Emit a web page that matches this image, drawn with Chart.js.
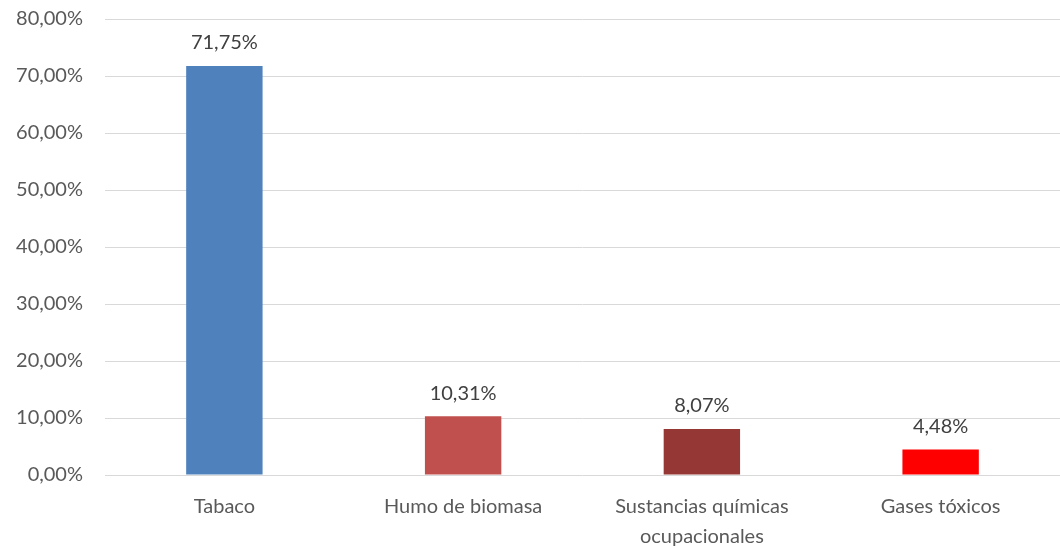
<!DOCTYPE html>
<html>
<head>
<meta charset="utf-8">
<script src="https://cdn.jsdelivr.net/npm/chart.js@4/dist/chart.umd.min.js"></script>
<style>
    html, body { margin: 0; padding: 0; background: #fff; }
    #wrap { width: 1060px; height: 548px; }
</style>
</head>
<body>
<div id="wrap"><canvas id="factorChart"></canvas></div>
<script>
// Factores de riesgo (porcentaje)
const categories = ['Tabaco', 'Humo de biomasa', ['Sustancias químicas', 'ocupacionales'], 'Gases tóxicos'];
const values = [71.75, 10.31, 8.07, 4.48];
const barColors = ['#4F81BD', '#C0504D', '#953735', '#FF0000'];
const yTicks = [0, 10, 20, 30, 40, 50, 60, 70, 80];

const FONT = 'Lato, "Open Sans", sans-serif';
const fmtPct = (v) => v.toFixed(2).replace('.', ',') + '%';

// Value labels above each bar
const barLabels = {
    id: 'barLabels',
    afterDatasetsDraw(chart) {
        const ctx = chart.ctx;
        const meta = chart.getDatasetMeta(0);
        ctx.save();
        ctx.font = '20px ' + FONT;
        ctx.fillStyle = '#404040';
        ctx.textAlign = 'center';
        ctx.textBaseline = 'middle';
        meta.data.forEach((bar, i) => {
            ctx.fillText(fmtPct(values[i]), bar.x, bar.y - 23);
        });
        ctx.restore();
    }
};

new Chart(document.getElementById('factorChart'), {
    type: 'bar',
    data: {
        labels: categories,
        datasets: [{
            data: values,
            backgroundColor: barColors,
            borderWidth: 0,
            barPercentage: 0.32,
            categoryPercentage: 1
        }]
    },
    options: {
        responsive: true,
        maintainAspectRatio: false,
        animation: false,
        layout: { padding: { top: 19, right: 0, left: 0, bottom: 0 } },
        plugins: {
            legend: { display: false },
            tooltip: { enabled: false }
        },
        scales: {
            y: {
                min: 0,
                max: 80,
                afterBuildTicks: (scale) => { scale.ticks = yTicks.map(v => ({ value: v })); },
                afterFit: (scale) => {
                    scale.width = 105;
                    scale.paddingTop = 0;
                    scale.paddingBottom = 0;
                },
                border: { display: false },
                grid: { color: '#D9D9D9', lineWidth: 1, drawTicks: false },
                ticks: {
                    padding: 22,
                    color: '#595959',
                    font: { size: 20, family: FONT },
                    callback: (v) => fmtPct(v)
                }
            },
            x: {
                afterFit: (scale) => {
                    scale.height = 73;
                    scale.paddingLeft = 0;
                    scale.paddingRight = 0;
                },
                border: { display: false },
                grid: { display: false },
                ticks: {
                    padding: 9,
                    maxRotation: 0,
                    color: '#595959',
                    font: { size: 20, family: FONT, lineHeight: 1.5 }
                }
            }
        }
    },
    plugins: [barLabels]
});
</script>
</body>
</html>
